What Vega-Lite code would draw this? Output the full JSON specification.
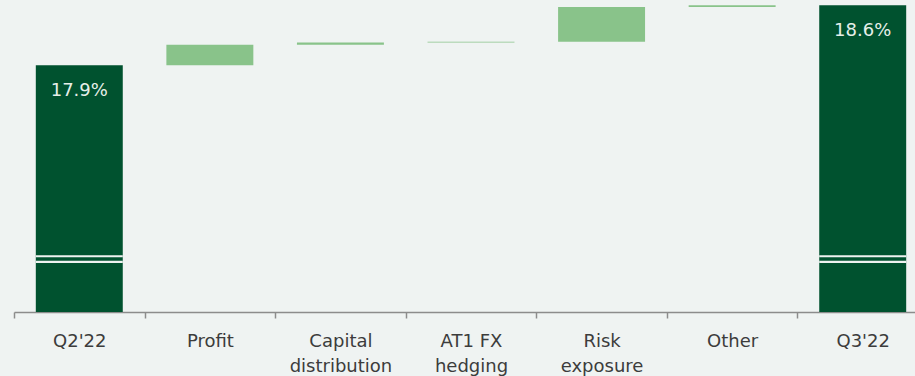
{
  "$schema": "https://vega.github.io/schema/vega-lite/v6.json",
  "width": 901,
  "height": 312,
  "autosize": "none",
  "padding": {"left": 14, "top": 0, "right": 0, "bottom": 64},
  "background": "#eff3f2",
  "config": {"view": {"stroke": null}},
  "data": {
    "values": [
      {"step": "Q2'22", "start": 0, "end": 17.9, "kind": "total"},
      {"step": "Profit", "start": 17.9, "end": 18.14, "kind": "change"},
      {"step": "Capital distribution", "start": 18.14, "end": 18.165, "kind": "change"},
      {"step": "AT1 FX hedging", "start": 18.165, "end": 18.175, "kind": "change"},
      {"step": "Risk exposure", "start": 18.175, "end": 18.58, "kind": "change"},
      {"step": "Other", "start": 18.58, "end": 18.6, "kind": "change"},
      {"step": "Q3'22", "start": 0, "end": 18.6, "kind": "total"},
      {"step": "Q2'22", "start": 15.6585, "end": 15.682, "kind": "break"},
      {"step": "Q2'22", "start": 15.592, "end": 15.619, "kind": "break"},
      {"step": "Q3'22", "start": 15.6585, "end": 15.682, "kind": "break"},
      {"step": "Q3'22", "start": 15.592, "end": 15.619, "kind": "break"}
    ]
  },
  "encoding": {
    "x": {
      "field": "step",
      "type": "nominal",
      "sort": null,
      "scale": {
        "range": [0, 914],
        "paddingInner": 0.334,
        "paddingOuter": 0.167
      },
      "axis": {
        "title": null,
        "labelAngle": 0,
        "labelFont": "DejaVu Sans",
        "labelFontSize": 18,
        "labelColor": "#3c3c3c",
        "labelLineHeight": 25,
        "labelPadding": 14,
        "labelOverlap": false,
        "tickSize": 6,
        "tickColor": "#8c8c8c",
        "tickWidth": 1.5,
        "tickOffset": -65.3,
        "labelOffset": 65.3,
        "domainColor": "#8c8c8c",
        "domainWidth": 1.5,
        "labelExpr": "datum.value == 'AT1 FX hedging' ? ['AT1 FX', 'hedging'] : (indexof(datum.value, ' ') > 0 ? split(datum.value, ' ') : datum.value)"
      }
    },
    "y": {
      "field": "start",
      "type": "quantitative",
      "scale": {"domain": [15.02, 18.662], "clamp": true, "nice": false, "zero": false},
      "axis": null
    }
  },
  "layer": [
    {
      "mark": {"type": "bar"},
      "encoding": {
        "y2": {"field": "end"},
        "color": {
          "field": "kind",
          "type": "nominal",
          "scale": {"domain": ["total", "change", "break"], "range": ["#00522f", "#89c38a", "#eef3f1"]},
          "legend": null
        }
      }
    },
    {
      "transform": [
        {"filter": "datum.kind == 'total'"},
        {"calculate": "format(datum.end, '.1f') + '%'", "as": "label"}
      ],
      "mark": {"type": "text", "baseline": "middle", "dy": 26, "fontSize": 18, "color": "#e6efe9", "font": "DejaVu Sans"},
      "encoding": {
        "y": {"field": "end", "type": "quantitative"},
        "text": {"field": "label", "type": "nominal"}
      }
    }
  ]
}
